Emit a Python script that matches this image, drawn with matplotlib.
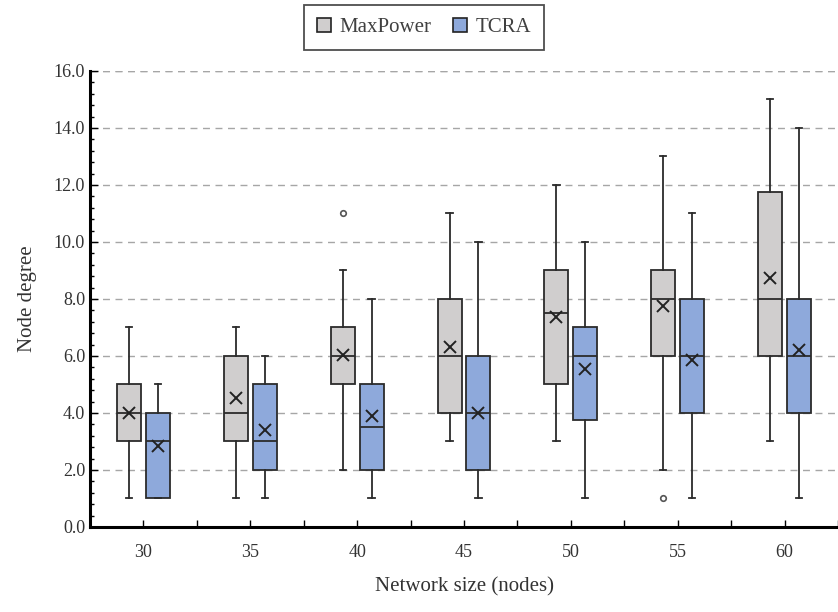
import matplotlib
matplotlib.use("Agg")
import matplotlib.pyplot as plt
from matplotlib.patches import Patch
from matplotlib.ticker import MultipleLocator, FormatStrFormatter

categories = ["30", "35", "40", "45", "50", "55", "60"]

# MaxPower
mp_whislo = [1, 1, 2, 3, 3, 2, 3]
mp_q1     = [3, 3, 5, 4, 5, 6, 6]
mp_med    = [4, 4, 6, 6, 7.5, 8, 8]
mp_q3     = [5, 6, 7, 8, 9, 9, 11.75]
mp_whishi = [7, 7, 9, 11, 12, 13, 15]
mp_mean   = [4.0, 4.52, 6.03, 6.33, 7.35, 7.77, 8.75]
mp_fliers = [[], [], [11], [], [], [1], []]

# TCRA
tc_whislo = [1, 1, 1, 1, 1, 1, 1]
tc_q1     = [1, 2, 2, 2, 3.75, 4, 4]
tc_med    = [3, 3, 3.5, 4, 6, 6, 6]
tc_q3     = [4, 5, 5, 6, 7, 8, 8]
tc_whishi = [5, 6, 8, 10, 10, 11, 14]
tc_mean   = [2.85, 3.4, 3.9, 4.0, 5.54, 5.87, 6.22]
tc_fliers = [[], [], [], [], [], [], []]

series_names = ["MaxPower", "TCRA"]
colors = ["#D0CECE", "#8EA9DB"]

plt.rcParams['font.family'] = ['Liberation Serif', 'DejaVu Serif']
plt.rcParams['text.color'] = '#333333'
plt.rcParams['axes.labelcolor'] = '#333333'
plt.rcParams['xtick.labelcolor'] = '#333333'
plt.rcParams['ytick.labelcolor'] = '#333333'

fig = plt.figure(figsize=(8.38, 6.12), dpi=100)
ax = fig.add_axes([0.1074, 0.139, 0.8926, 0.745])

def stats(lo, q1, med, q3, hi, mean, fl):
    return [dict(whislo=a, q1=b, med=c, q3=d, whishi=e, mean=f, fliers=g)
            for a, b, c, d, e, f, g in zip(lo, q1, med, q3, hi, mean, fl)]

groups = [
    stats(mp_whislo, mp_q1, mp_med, mp_q3, mp_whishi, mp_mean, mp_fliers),
    stats(tc_whislo, tc_q1, tc_med, tc_q3, tc_whishi, tc_mean, tc_fliers),
]
offsets = [-0.135, 0.135]
n = len(categories)
for st, off, col in zip(groups, offsets, colors):
    pos = [i + off for i in range(n)]
    ax.bxp(st, positions=pos, widths=0.225, patch_artist=True,
           showmeans=True, showfliers=True, capwidths=0.06,
           boxprops=dict(facecolor=col, edgecolor="#2b2b2b", linewidth=1.3),
           medianprops=dict(color="#2b2b2b", linewidth=1.3),
           whiskerprops=dict(color="#2b2b2b", linewidth=1.3),
           capprops=dict(color="#2b2b2b", linewidth=1.3),
           meanprops=dict(marker="x", markeredgecolor="#222222", markersize=9,
                          markeredgewidth=1.4),
           flierprops=dict(marker="o", markerfacecolor="white",
                           markeredgecolor="#555555", markersize=4,
                           markeredgewidth=1.2),
           manage_ticks=False, zorder=3)

ax.set_xlim(-0.5, 6.426)
ax.set_ylim(0, 16)
ax.set_xticks(list(range(n)))
ax.set_xticklabels(categories)
ax.set_xticks([i + 0.5 for i in range(-1, n)], minor=True)
ax.tick_params(axis="x", which="both", direction="in", length=5, width=1,
               labelsize=13, pad=12)

ax.yaxis.set_major_locator(MultipleLocator(2))
ax.yaxis.set_minor_locator(MultipleLocator(0.4))
ax.yaxis.set_major_formatter(FormatStrFormatter("%.1f"))
ax.tick_params(axis="y", which="major", direction="in", length=6, width=1,
               labelsize=13)
ax.tick_params(axis="y", which="minor", direction="in", length=3, width=1)

ax.grid(axis="y", which="major", linestyle=(0, (5, 4)), color="#a6a6a6",
        linewidth=1.0, zorder=0)
ax.set_axisbelow(True)
ax.axhline(16, linestyle=(0, (5, 4)), color="#a6a6a6", linewidth=1.0, zorder=0)

for s in ["top", "right"]:
    ax.spines[s].set_visible(False)
ax.spines["left"].set_linewidth(2.2)
ax.spines["bottom"].set_linewidth(2.2)

ax.set_ylabel("Node degree", fontsize=15, labelpad=12)
ax.set_xlabel("Network size (nodes)", fontsize=15, labelpad=12)

handles = [Patch(facecolor=c, edgecolor="#222222", linewidth=1.2, label=nm)
           for c, nm in zip(colors, series_names)]
leg = fig.legend(handles=handles, loc="center", bbox_to_anchor=(0.506, 0.955),
                 ncol=2, fontsize=15, frameon=True, fancybox=False,
                 handlelength=0.7, handleheight=0.7, handletextpad=0.4,
                 columnspacing=1.0, borderpad=0.6, labelcolor="#404040")
leg.get_frame().set_edgecolor("#222222")
leg.get_frame().set_linewidth(1.3)

fig.savefig("out.png", dpi=100)
